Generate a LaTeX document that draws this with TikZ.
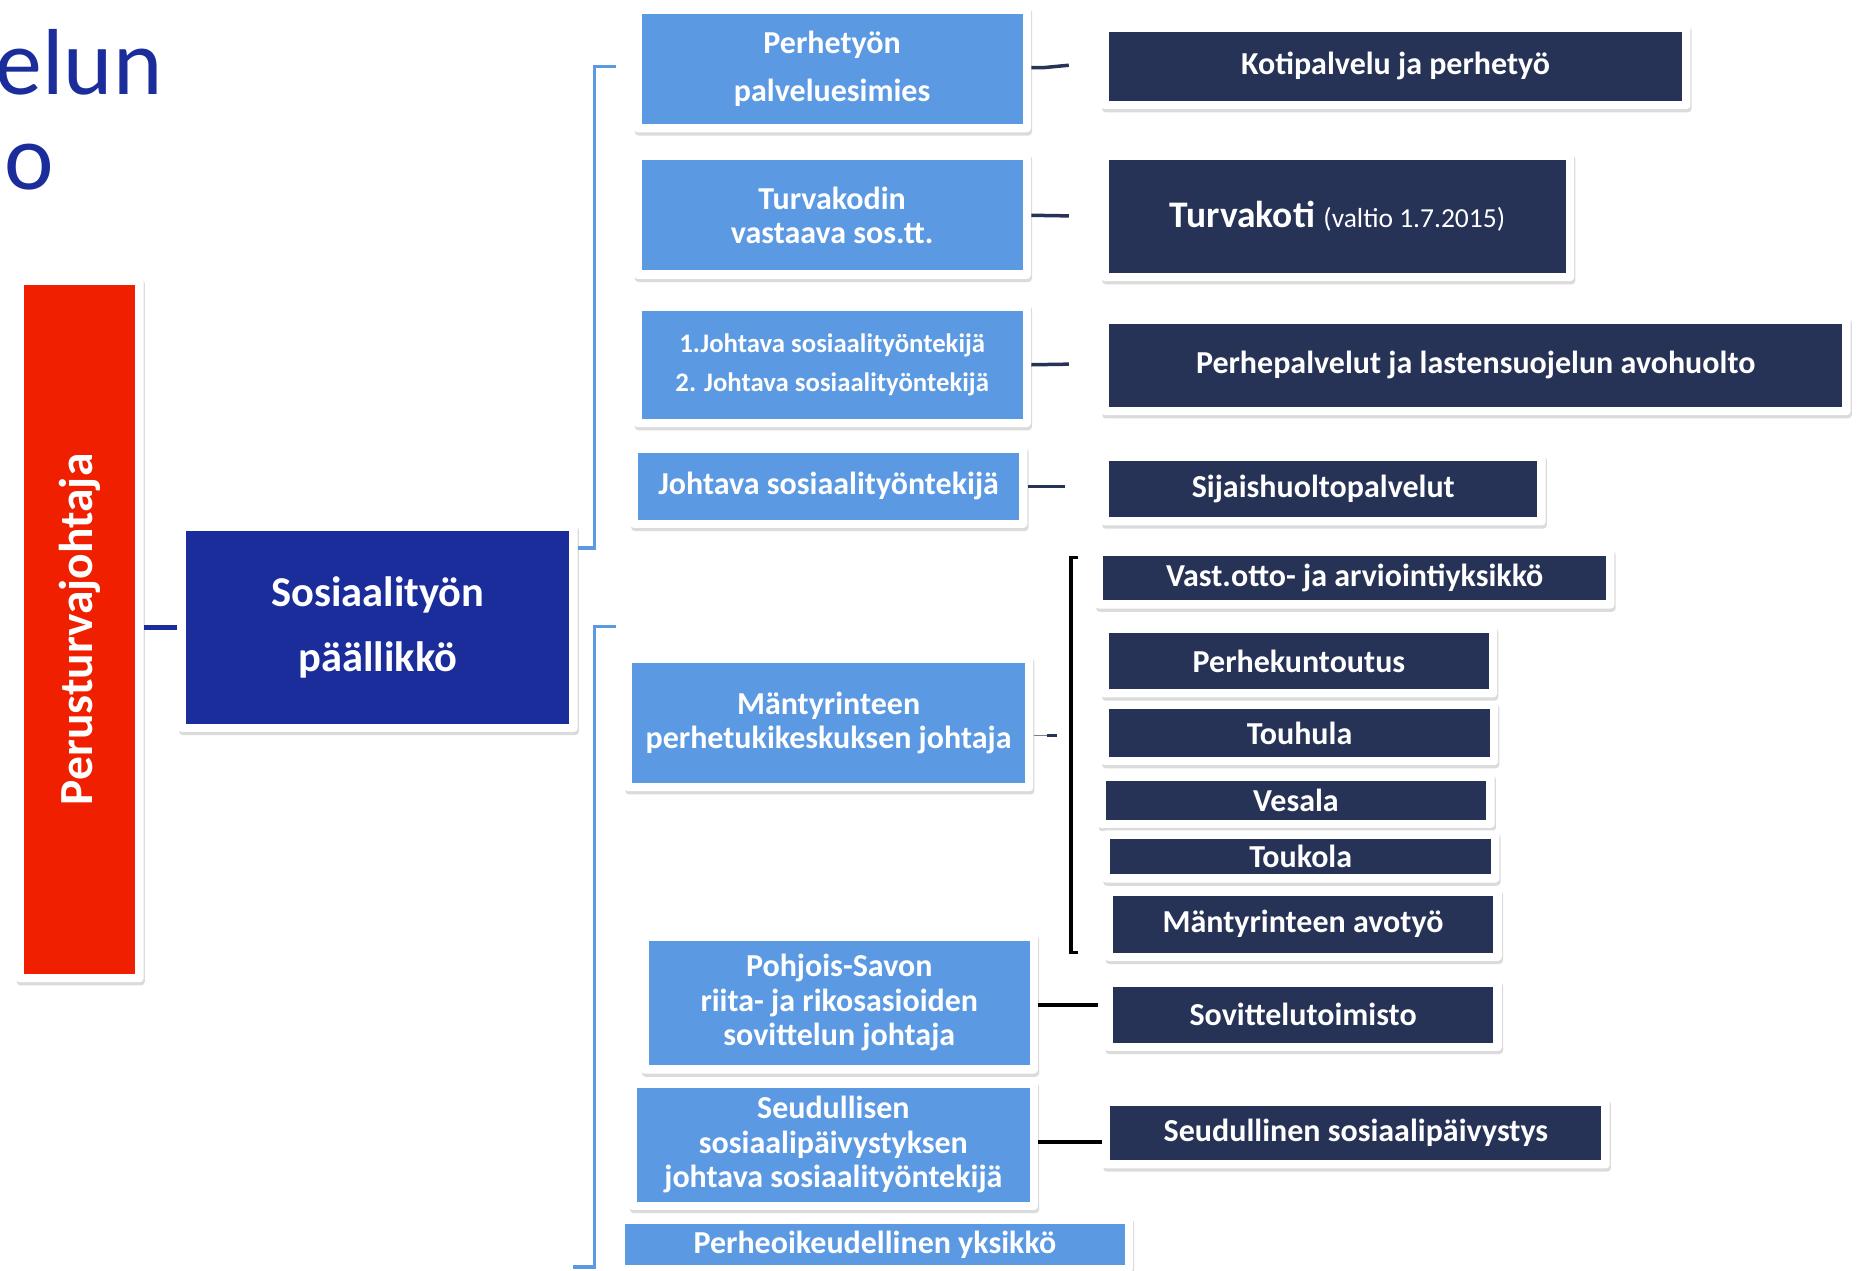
\documentclass[tikz,border=0pt]{standalone}
\usepackage{fontspec}
\usepackage{graphicx}
\setmainfont{Carlito}
\usetikzlibrary{shadows}
\newlength\ux \setlength\ux{0.4745pt}
\definecolor{lblue}{HTML}{5B9AE3}
\definecolor{navy}{HTML}{263357}
\definecolor{royal}{HTML}{1B2D9A}
\definecolor{redbox}{HTML}{F01F00}
\tikzset{
  box/.style={fill=white, rounded corners=1.5pt, inner sep=0pt, align=center, text=white,
    drop shadow={shadow xshift=0.5pt, shadow yshift=-1.3pt, opacity=0.28},
    path picture={\fill[#1, sharp corners] ([shift={(7\ux,7\ux)}]path picture bounding box.south west) rectangle ([shift={(-7\ux,-7\ux)}]path picture bounding box.north east);}},
  fs/.style 2 args={font=\fontsize{#1}{#2}\selectfont\bfseries},
  con/.style={navy, line width=1.4pt},
  blk/.style={black, line width=1.5pt},
  brk/.style={lblue, line width=1.4pt}
}
\begin{document}
\begin{tikzpicture}[x=0.4745pt, y=-0.4745pt]
\fill[white] (0,0) rectangle (1568,1071);
\useasboundingbox (0,0) rectangle (1568,1071);
% title fragments
\node[anchor=base west, inner sep=0pt, text=royal, font=\fontsize{37.5}{40}\selectfont] (t1) at (-4,80) {elun};
\node[anchor=base west, inner sep=0pt, text=royal, font=\fontsize{37.5}{40}\selectfont] (t2) at (3,160) {o};
% left column
\node[box=redbox, minimum width=108\ux, minimum height=595\ux, fs={19}{22}] (pj) at (67,530.5) {\rotatebox{90}{Perusturvajohtaja}};
\node[box=royal, minimum width=337\ux, minimum height=176\ux, fs={17}{26}] (sp) at (318.5,529) {Sosiaalityön\\päällikkö};
% light blue column
\node[box=lblue, minimum width=335\ux, minimum height=107\ux, fs={12.8}{19.5}] (p1) at (701.5,58) {Perhetyön\\palveluesimies};
\node[box=lblue, minimum width=335\ux, minimum height=107\ux, fs={12.8}{13.8}] (p2) at (701.5,181.5) {Turvakodin\\vastaava sos.tt.};
\node[box=lblue, minimum width=335\ux, minimum height=105\ux, fs={10.7}{15.7}] (p3) at (701.5,307.5) {1.Johtava sosiaalityöntekijä\\2. Johtava sosiaalityöntekijä};
\node[box=lblue, minimum width=335\ux, minimum height=70\ux, fs={12.8}{14}] (p4) at (698.5,410) {Johtava sosiaalityöntekijä};
\node[box=lblue, minimum width=345\ux, minimum height=115\ux, fs={12.8}{13.8}] (p5) at (698.5,609.5) {Mäntyrinteen\\perhetukikeskuksen johtaja};
\node[box=lblue, minimum width=335\ux, minimum height=119\ux, fs={12.8}{13.8}] (p6) at (707.5,845.5) {Pohjois-Savon\\riita- ja rikosasioiden\\sovittelun johtaja};
\node[box=lblue, minimum width=345\ux, minimum height=110\ux, fs={12.8}{13.8}] (p7) at (702.5,965) {Seudullisen\\sosiaalipäivystyksen\\johtava sosiaalityöntekijä};
\node[box=lblue, minimum width=435\ux, minimum height=48\ux, fs={12.8}{14}] (p8) at (737.5,1049) {Perheoikeudellinen yksikkö};
% dark column
\node[box=navy, minimum width=497\ux, minimum height=72\ux, fs={12.8}{14}] (A) at (1176.5,56) {Kotipalvelu ja perhetyö};
\node[box=navy, minimum width=399\ux, minimum height=109\ux, fs={15}{16}] (B) at (1127.5,182.5) {Turvakoti {\mdseries\fontsize{11}{12}\selectfont (valtio 1.7.2015)}};
\node[box=navy, minimum width=632\ux, minimum height=84\ux, fs={12.8}{14}] (C) at (1244,308) {Perhepalvelut ja lastensuojelun avohuolto};
\node[box=navy, minimum width=375\ux, minimum height=61\ux, fs={12.8}{14}] (D) at (1115.5,412.5) {Sijaishuoltopalvelut};
\node[box=navy, minimum width=438\ux, minimum height=51\ux, fs={12.8}{14}] (E) at (1142,487.5) {Vast.otto- ja arviointiyksikkö};
\node[box=navy, minimum width=334\ux, minimum height=61\ux, fs={12.8}{14}] (F) at (1095,557.5) {Perhekuntoutus};
\node[box=navy, minimum width=335\ux, minimum height=54\ux, fs={12.8}{14}] (G) at (1095.5,618) {Touhula};
\node[box=navy, minimum width=335\ux, minimum height=47\ux, fs={12.8}{14}] (H) at (1092.5,674.5) {Vesala};
\node[box=navy, minimum width=335\ux, minimum height=44\ux, fs={12.8}{14}] (I) at (1096.5,722) {Toukola};
\node[box=navy, minimum width=335\ux, minimum height=62\ux, fs={12.8}{14}] (J) at (1098.5,779) {Mäntyrinteen avotyö};
\node[box=navy, minimum width=335\ux, minimum height=61\ux, fs={12.8}{14}] (K) at (1098.5,855.5) {Sovittelutoimisto};
\node[box=navy, minimum width=428\ux, minimum height=60\ux, fs={12.8}{14}] (L) at (1143,955) {Seudullinen sosiaalipäivystys};
% connectors
\draw[royal, line width=1.7pt] (pj.east |- sp.west) -- (sp.west);
\coordinate (ub) at (519,56);
\draw[brk] (sp.east |- 0,462) -- (501,462) -- (501,56) -- (ub);
\coordinate (lbt) at (519,528);
\coordinate (lbb) at (483,1068);
\draw[brk] (lbt) -- (501,528) -- (501,1068) -- (lbb);
\coordinate (c1) at (901,55);
\coordinate (c2) at (901,182);
\coordinate (c3) at (901,307);
\coordinate (c4) at (898,410);
\draw[con] (p1.east |- 0,57) -- (880,57) -- (c1);
\draw[con] (p2.east) -- (c2);
\draw[con] (p3.east) -- (c3);
\draw[con] (p4.east) -- (c4);
\coordinate (c5) at (888,620);
\draw[gray, line width=0.4pt] (p5.east |- c5) -- (c5);
\draw[con, line width=1.2pt] (883,620) -- (891,620);
\draw[blk] (909,470) -- (903,470) -- (903,803) -- (909,803);
\coordinate (c6) at (926,847);
\draw[blk] (p6.east |- c6) -- (c6);
\draw[blk] (p7.east |- 0,963) -- (L.west |- 0,963);
\end{tikzpicture}
\end{document}
